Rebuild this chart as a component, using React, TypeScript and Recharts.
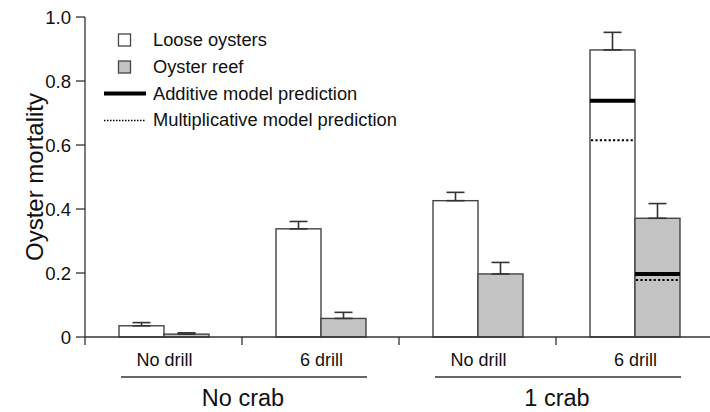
import React from 'react';
import { ComposedChart, Bar, XAxis, YAxis, ErrorBar, Legend } from 'recharts';

// ---- data ----
const categories = ['No drill', '6 drill', 'No drill', '6 drill'];
const groups = ['No crab', '1 crab'];
const looseMortality = [0.035, 0.338, 0.426, 0.897];
const looseError = [0.010, 0.023, 0.026, 0.055];
const reefMortality = [0.009, 0.058, 0.197, 0.371];
const reefError = [0.004, 0.019, 0.036, 0.046];
const additiveLoose: (number | null)[] = [null, null, null, 0.738];
const additiveReef: (number | null)[] = [null, null, null, 0.197];
const multiplicativeLoose: (number | null)[] = [null, null, null, 0.615];
const multiplicativeReef: (number | null)[] = [null, null, null, 0.178];
const yTicks = [0, 0.2, 0.4, 0.6, 0.8, 1.0];

const data = categories.map((c, i) => ({
  cat: c + '#' + i,
  label: c,
  loose: looseMortality[i],
  looseE: [0, looseError[i]],
  reef: reefMortality[i],
  reefE: [0, reefError[i]],
  addLoose: additiveLoose[i],
  addReef: additiveReef[i],
  multLoose: multiplicativeLoose[i],
  multReef: multiplicativeReef[i],
}));

const FONT = '"Liberation Sans", Arial, Helvetica, sans-serif';
const INK = '#333';
const EDGE = '#444';
const GRAY = '#c3c3c3';

const SText = ({ x, y, sx = 1, size = 15, anchor = 'start', rotate = 0, children }: any) => (
  <text
    transform={`translate(${x},${y}) rotate(${rotate}) scale(${sx},1)`}
    textAnchor={anchor}
    fontFamily={FONT}
    fontSize={size}
    fill="#111"
  >
    {children}
  </text>
);

const makeShape = (valKey: string, addKey: string, multKey: string) => (props: any) => {
  const { x, y, width, height, fill, payload } = props;
  const v = payload[valKey];
  const base = y + height;
  const toPx = (val: number) => base - (height * val) / v;
  const add = payload[addKey];
  const mult = payload[multKey];
  return (
    <g>
      <rect x={x} y={y} width={width} height={height} fill={fill} stroke={EDGE} strokeWidth={1.4} />
      {add != null && (
        <line x1={x} x2={x + width} y1={toPx(add)} y2={toPx(add)} stroke="#000" strokeWidth={4} />
      )}
      {mult != null && (
        <line
          x1={x + 1}
          x2={x + width}
          y1={toPx(mult)}
          y2={toPx(mult)}
          stroke="#000"
          strokeWidth={2}
          strokeDasharray="2.2 2.2"
        />
      )}
    </g>
  );
};

const XTick = (props: any) => {
  const { x, y, payload } = props;
  const idx = payload.index;
  const half = payload.offset || 78.5;
  const left = x - half;
  const row = data[idx];
  const out: any[] = [];
  out.push(<line key="t" x1={left} x2={left} y1={y} y2={y + 8} stroke={INK} strokeWidth={1.3} />);
  out.push(
    <SText key="l" x={x + 1} y={y + 29} anchor="middle" size={18}>
      {row.label}
    </SText>
  );
  if (idx % 2 === 0) {
    const g = groups[idx / 2];
    out.push(
      <line key="g" x1={left + 36} x2={x + 3 * half - 32} y1={y + 40} y2={y + 40} stroke={INK} strokeWidth={1.3} />
    );
    out.push(
      <SText key="gt" x={x + half + 1} y={y + 68.5} anchor="middle" size={23.5}>
        {g}
      </SText>
    );
  }
  return <g>{out}</g>;
};

const YTick = (props: any) => {
  const { x, y, payload } = props;
  const v = payload.value;
  const txt = v === 0 ? '0' : v.toFixed(1);
  return (
    <SText x={x} y={y + 7.3} anchor="end" size={18.6}>
      {txt}
    </SText>
  );
};

const LegendContent = () => (
  <svg width={420} height={140} style={{ display: 'block', overflow: 'visible' }}>
    <rect x={118.5} y={34} width={12} height={12} fill="#fff" stroke={EDGE} strokeWidth={1.3} />
    <rect x={118.5} y={61} width={12} height={12} fill={GRAY} stroke={EDGE} strokeWidth={1.3} />
    <line x1={104} x2={146} y1={93.5} y2={93.5} stroke="#000" strokeWidth={4} />
    <line x1={104} x2={146} y1={120.5} y2={120.5} stroke="#000" strokeWidth={1.5} strokeDasharray="1.5 1.5" />
    <SText x={153} y={46.2} size={18.3}>Loose oysters</SText>
    <SText x={153} y={72.8} size={18.3}>Oyster reef</SText>
    <SText x={153} y={99.6} size={18.3}>Additive model prediction</SText>
    <SText x={153} y={126.4} size={18.3}>Multiplicative model prediction</SText>
  </svg>
);

export default function App() {
  return (
    <div style={{ position: 'absolute', left: 0, top: 0, width: 710, height: 412, overflow: 'hidden', background: '#fff' }}>
      <ComposedChart
        width={714}
        height={412}
        data={data}
        margin={{ top: 17, right: 1, bottom: 0, left: 0 }}
        barGap={0}
        barSize={45}
      >
        <XAxis
          dataKey="cat"
          height={75}
          tickLine={false}
          tickSize={0}
          tickMargin={0}
          axisLine={{ stroke: INK, strokeWidth: 1.3 }}
          tick={<XTick />}
          interval={0}
        />
        <YAxis
          width={85}
          domain={[0, 1]}
          ticks={yTicks}
          tickSize={9}
          tickMargin={5}
          interval={0}
          axisLine={{ stroke: INK, strokeWidth: 1.3 }}
          tickLine={{ stroke: INK, strokeWidth: 1.3 }}
          tick={<YTick />}
          label={
            <SText x={28.5} y={181} anchor="middle" size={24} rotate={-90}>
              Oyster mortality
            </SText>
          }
        />
        <Legend
          layout="vertical"
          align="center"
          verticalAlign="middle"
          wrapperStyle={{ position: 'absolute', left: 0, top: 0, width: 420, height: 140 }}
          content={<LegendContent />}
        />
        <Bar dataKey="loose" fill="#fff" isAnimationActive={false} shape={makeShape('loose', 'addLoose', 'multLoose')}>
          <ErrorBar dataKey="looseE" width={9} stroke={INK} strokeWidth={1.6} isAnimationActive={false} />
        </Bar>
        <Bar dataKey="reef" fill={GRAY} isAnimationActive={false} shape={makeShape('reef', 'addReef', 'multReef')}>
          <ErrorBar dataKey="reefE" width={9} stroke={INK} strokeWidth={1.6} isAnimationActive={false} />
        </Bar>
      </ComposedChart>
    </div>
  );
}
